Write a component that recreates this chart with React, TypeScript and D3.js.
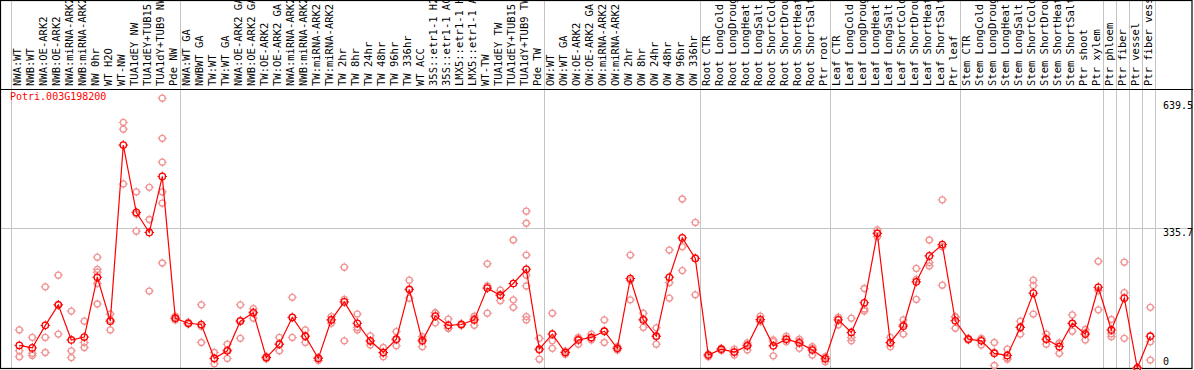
import React from "react";
import * as d3 from "d3";

const sampleLabels: string[] = [
  "NWA:WT", "NWB:WT", "NWA:OE-ARK2", "NWB:OE-ARK2", "NWA:miRNA-ARK2", "NWB:miRNA-ARK2",
  "NW 0hr", "WT H2O", "WT-NW", "TUA1dEY NW", "TUA1dEY+TUB15 NW", "TUA1dY+TUB9 NW", "Pde NW",
  "NWA:WT GA", "NWBWT GA", "TW:WT", "TW:WT GA", "NWA:OE-ARK2 GA", "NWB:OE-ARK2 GA",
  "TW:OE-ARK2", "TW:OE-ARK2 GA", "NWA:miRNA-ARK2", "NWB:miRNA-ARK2", "TW:miRNA-ARK2",
  "TW:miRNA-ARK2", "TW 2hr", "TW 8hr", "TW 24hr", "TW 48hr", "TW 96hr", "TW 336hr",
  "WT ACC", "35S::etr1-1 H2O", "35S::etr1-1 ACC", "LMX5::etr1-1 H2O", "LMX5::etr1-1 ACC",
  "WT-TW", "TUA1dEY TW", "TUA1dEY+TUB15 TW", "TUA1dY+TUB9 TW", "Pde TW",
  "OW:WT", "OW:WT GA", "OW:OE-ARK2", "OW:OE-ARK2 GA", "OW:miRNA-ARK2", "OW:miRNA-ARK2",
  "OW 2hr", "OW 8hr", "OW 24hr", "OW 48hr", "OW 96hr", "OW 336hr",
  "Root CTR", "Root LongCold", "Root LongDrought", "Root LongHeat", "Root LongSalt",
  "Root ShortCold", "Root ShortDrought", "Root ShortHeat", "Root ShortSalt", "Ptr root",
  "Leaf CTR", "Leaf LongCold", "Leaf LongDrought", "Leaf LongHeat", "Leaf LongSalt",
  "Leaf ShortCold", "Leaf ShortDrought", "Leaf ShortHeat", "Leaf ShortSalt", "Ptr leaf",
  "Stem CTR", "Stem LongCold", "Stem LongDrought", "Stem LongHeat", "Stem LongSalt",
  "Stem ShortCold", "Stem ShortDrought", "Stem ShortHeat", "Stem ShortSalt", "Ptr shoot",
  "Ptr xylem", "Ptr phloem", "Ptr fiber", "Ptr vessel", "Ptr fiber vessel",
];

const meanValues: number[] = [
  54, 48, 102, 151, 67, 74, 217, 112, 533, 372, 324, 458, 119,
  107, 104, 23, 41, 112, 132, 25, 57, 121, 76, 23, 115, 158, 107, 65, 37, 69, 188,
  65, 124, 102, 104, 115, 191, 174, 202, 236, 45,
  81, 37, 67, 73, 88, 47, 214, 115, 76, 217, 311, 262,
  31, 45, 38, 53, 116, 53, 69, 60, 43, 22,
  115, 85, 156, 322, 61, 100, 206, 268, 295, 113,
  69, 65, 35, 30, 97, 179, 69, 51, 107, 81, 193,
  91, 167, 0, 76,
];

const replicateValues: number[][] = [
  [91, 41, 27], [73, 35, 30], [194, 73, 37], [222, 151, 81], [136, 41, 25], [112, 61, 49],
  [265, 236, 229, 202, 153], [129, 115, 91], [587, 571, 440], [421, 368, 327], [432, 355, 184],
  [645, 549, 492, 421, 394, 251], [124, 119, 115],
  [109, 107, 105], [151, 100, 61], [37, 22, 10], [57, 43, 23], [151, 114, 71], [142, 134, 119],
  [28, 25, 22], [73, 57, 41], [169, 121, 73], [91, 76, 61], [25, 25, 18], [123, 115, 107],
  [241, 164, 65], [129, 97, 91], [77, 63, 55], [49, 36, 27], [87, 67, 53], [210, 187, 167],
  [75, 69, 51], [132, 132, 108], [117, 95, 95], [106, 104, 102], [124, 119, 102],
  [249, 196, 131], [186, 175, 161], [306, 163, 145], [375, 346, 270, 222, 196, 123, 115], [71, 43, 21],
  [131, 65, 47], [40, 38, 33], [73, 71, 57], [81, 71, 67], [115, 88, 61], [51, 47, 43],
  [270, 210, 163], [131, 117, 97], [96, 76, 57], [282, 204, 167], [404, 290, 233], [348, 262, 175],
  [33, 31, 27], [47, 45, 42], [45, 38, 31], [60, 56, 43], [124, 114, 111], [67, 63, 29],
  [76, 68, 63], [69, 64, 47], [51, 47, 31], [27, 24, 15],
  [121, 121, 103], [119, 73, 65], [190, 141, 136], [330, 322, 314], [73, 59, 51], [115, 104, 81],
  [238, 212, 164], [306, 252, 244], [402, 290, 198], [123, 121, 95],
  [71, 69, 67], [71, 69, 55], [61, 38, 6], [45, 24, 21], [112, 98, 81], [210, 197, 129],
  [81, 69, 57], [60, 58, 35], [127, 106, 88], [92, 84, 67], [255, 185, 139],
  [116, 82, 75], [253, 180, 71], [0, 0, 0], [145, 63, 19],
];

const groupStarts: number[] = [0, 13, 41, 53, 63, 73, 84, 85, 86, 87, 88];
const yTicks: number[] = [639.5, 335.7, 0];
const geneName = "Potri.003G198200";

const W = 1194;
const H = 370;
const FONT = "'DejaVu Sans Mono', 'Liberation Mono', monospace";

function Marker({ x, y, color, r = 3 }: { x: number; y: number; color: string; r?: number }) {
  return (
    <g>
      <circle cx={x} cy={y} r={r} fill="none" stroke={color} strokeWidth={1.3} />
      <line x1={x} x2={x} y1={y - r - 1.6} y2={y - r + 0.6} stroke={color} strokeWidth={1} />
      <line x1={x} x2={x} y1={y + r - 0.6} y2={y + r + 1.6} stroke={color} strokeWidth={1} />
      <line x1={x - r - 1.6} x2={x - r + 0.6} y1={y} y2={y} stroke={color} strokeWidth={1} />
      <line x1={x + r - 0.6} x2={x + r + 1.6} y1={y} y2={y} stroke={color} strokeWidth={1} />
    </g>
  );
}

export default function App() {
  const n = sampleLabels.length;
  const x = d3.scaleLinear().domain([0, n - 1]).range([19.3, 19.3 + 13 * (n - 1)]);
  const y = d3.scaleLinear().domain([0, 639.5]).range([368, 100.5]);

  const line = d3
    .line<number>()
    .x((_, i) => x(i))
    .y((d) => y(d));

  const repColor = "#f09494";
  const red = "#ff0000";
  const grid = "#c4c4c4";

  return (
    <svg
      width={W}
      height={H}
      style={{ position: "absolute", left: 0, top: 0, background: "#fff" }}
      fontFamily={FONT}
    >
      <rect x={0} y={0} width={W} height={H} fill="#fff" />
      {/* vertical group separators */}
      {groupStarts.map((k) => (
        <line
          key={"v" + k}
          x1={Math.round(x(k) - 8.5) + 0.5}
          x2={Math.round(x(k) - 8.5) + 0.5}
          y1={0}
          y2={368}
          stroke={grid}
          strokeWidth={1}
        />
      ))}
      {/* horizontal gridline */}
      <line x1={0} x2={1193} y1={Math.round(y(335.7)) + 0.5} y2={Math.round(y(335.7)) + 0.5} stroke={grid} strokeWidth={1} />

      {/* sample labels */}
      {sampleLabels.map((s, i) => (
        <text
          key={"l" + i}
          transform={`translate(${x(i) + 2},86) rotate(-90)`}
          fontSize={10.5}
          fill="#000"
        >
          {s}
        </text>
      ))}

      {/* frame */}
      <line x1={0} x2={1193} y1={89.5} y2={89.5} stroke="#000" strokeWidth={1} />
      <rect x={0.5} y={0.5} width={1191.5} height={368} fill="none" stroke="#000" strokeWidth={1.2} />

      {/* replicates */}
      {replicateValues.map((reps, i) =>
        reps.map((v, j) => <Marker key={`r${i}-${j}`} x={x(i)} y={y(v)} color={repColor} />)
      )}

      {/* mean line */}
      <path d={line(meanValues) || ""} fill="none" stroke={red} strokeWidth={1.2} />
      {meanValues.map((v, i) => (
        <Marker key={"m" + i} x={x(i)} y={y(v)} color={red} r={3.2} />
      ))}

      {/* gene name */}
      <text x={10} y={100} fontSize={10} fill={red}>
        {geneName}
      </text>

      {/* y tick labels */}
      {yTicks.map((t) => (
        <text key={"t" + t} x={1163} y={Math.min(y(t) + 8.5, 365)} fontSize={10} fill="#000">
          {t}
        </text>
      ))}
    </svg>
  );
}
